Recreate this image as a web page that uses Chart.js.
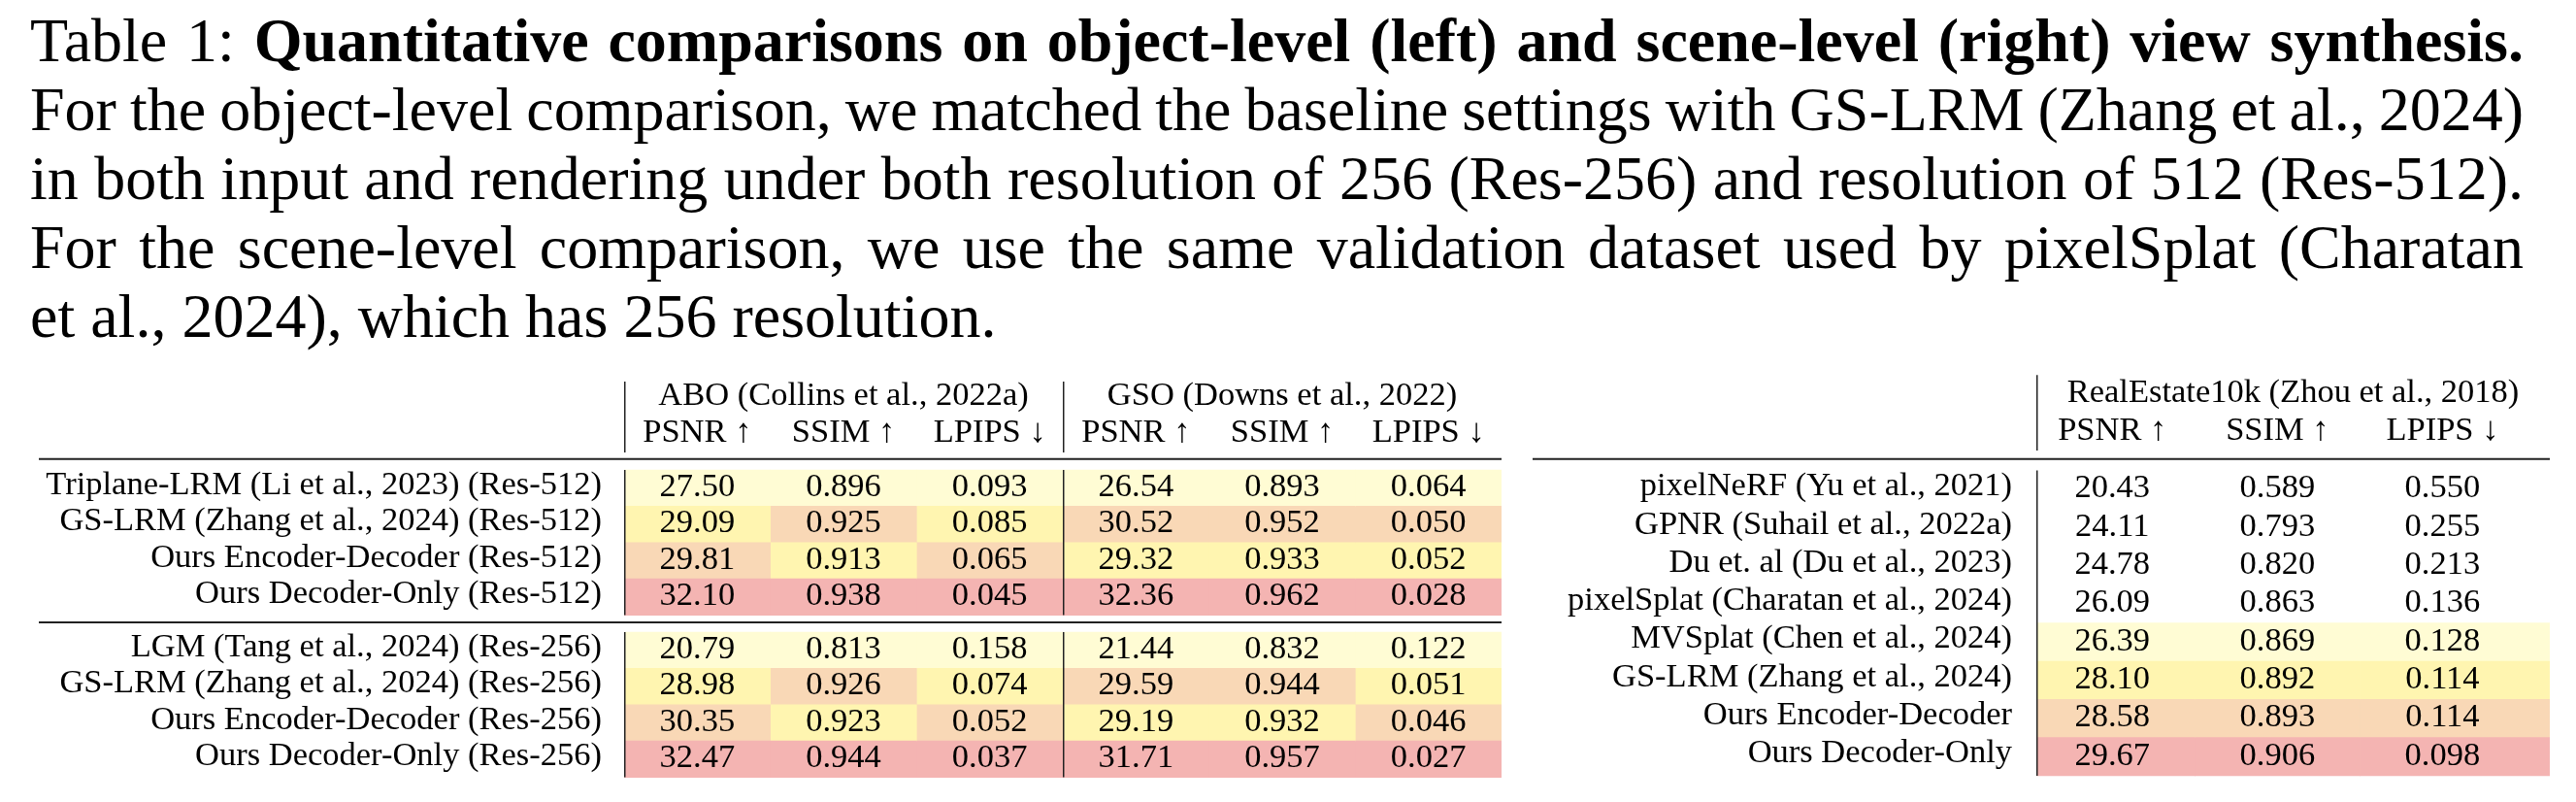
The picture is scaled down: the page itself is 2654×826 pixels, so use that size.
<!DOCTYPE html>
<html>
<head>
<meta charset="utf-8">
<title>Table 1: view synthesis comparison</title>
<script src="https://cdn.jsdelivr.net/npm/chart.js@4.4.1/dist/chart.umd.min.js"></script>
<style>
  html, body { margin: 0; padding: 0; background: #fff; }
  body { width: 2654px; height: 826px; position: relative; overflow: hidden;
         font-family: 'Liberation Serif', 'Times New Roman', serif; color: #000; }
  .caption { position: absolute; left: 31px; top: 6px; width: 2600px; font-size: 64px; line-height: 71px; }
  .caption div, .caption span { white-space: nowrap; }
  #objectTable { position: absolute; left: 0; top: 380px; }
  #sceneTable { position: absolute; left: 1560px; top: 380px; }
</style>
</head>
<body>
<div class="caption">
  <div><span>Table 1: <b>Quantitative comparisons on object-level (left) and scene-level (right) view synthesis.</b></span></div>
  <div><span>For the object-level comparison, we matched the baseline settings with GS-LRM (Zhang et al., 2024)</span></div>
  <div><span>in both input and rendering under both resolution of 256 (Res-256) and resolution of 512 (Res-512).</span></div>
  <div><span>For the scene-level comparison, we use the same validation dataset used by pixelSplat (Charatan</span></div>
  <div class="last"><span>et al., 2024), which has 256 resolution.</span></div>
</div>
<canvas id="objectTable" width="1560" height="446"></canvas>
<canvas id="sceneTable" width="1094" height="446"></canvas>
<script>
// ---- data ----
const metrics = ['PSNR ↑', 'SSIM ↑', 'LPIPS ↓'];
const higherBetter = [true, true, false];
const objectDatasets = ['ABO (Collins et al., 2022a)', 'GSO (Downs et al., 2022)'];
const sceneDataset = 'RealEstate10k (Zhou et al., 2018)';

const methods512 = ['Triplane-LRM (Li et al., 2023) (Res-512)', 'GS-LRM (Zhang et al., 2024) (Res-512)',
                    'Ours Encoder-Decoder (Res-512)', 'Ours Decoder-Only (Res-512)'];
const methods256 = ['LGM (Tang et al., 2024) (Res-256)', 'GS-LRM (Zhang et al., 2024) (Res-256)',
                    'Ours Encoder-Decoder (Res-256)', 'Ours Decoder-Only (Res-256)'];

const aboPsnr512 = [27.50, 29.09, 29.81, 32.10];
const aboSsim512 = [0.896, 0.925, 0.913, 0.938];
const aboLpips512 = [0.093, 0.085, 0.065, 0.045];
const gsoPsnr512 = [26.54, 30.52, 29.32, 32.36];
const gsoSsim512 = [0.893, 0.952, 0.933, 0.962];
const gsoLpips512 = [0.064, 0.050, 0.052, 0.028];

const aboPsnr256 = [20.79, 28.98, 30.35, 32.47];
const aboSsim256 = [0.813, 0.926, 0.923, 0.944];
const aboLpips256 = [0.158, 0.074, 0.052, 0.037];
const gsoPsnr256 = [21.44, 29.59, 29.19, 31.71];
const gsoSsim256 = [0.832, 0.944, 0.932, 0.957];
const gsoLpips256 = [0.122, 0.051, 0.046, 0.027];

const sceneMethods = ['pixelNeRF (Yu et al., 2021)', 'GPNR (Suhail et al., 2022a)', 'Du et. al (Du et al., 2023)',
                      'pixelSplat (Charatan et al., 2024)', 'MVSplat (Chen et al., 2024)',
                      'GS-LRM (Zhang et al., 2024)', 'Ours Encoder-Decoder', 'Ours Decoder-Only'];
const rePsnr = [20.43, 24.11, 24.78, 26.09, 26.39, 28.10, 28.58, 29.67];
const reSsim = [0.589, 0.793, 0.820, 0.863, 0.869, 0.892, 0.893, 0.906];
const reLpips = [0.550, 0.255, 0.213, 0.136, 0.128, 0.114, 0.114, 0.098];

// ---- caption: justify each line to the same right edge ----
const captionRight = 2569;
document.querySelectorAll('.caption div').forEach(div => {
  if (div.classList.contains('last')) return;
  const span = div.querySelector('span');
  const spaces = (span.textContent.match(/ /g) || []).length;
  const w = span.getBoundingClientRect().width;
  span.style.wordSpacing = ((captionRight - w) / spaces) + 'px';
});

// ---- styling ----
const serif = "'Liberation Serif', 'Times New Roman', serif";
const fontSize = 34.5;
const shades = ['#F4B4B2', '#F9D8B6', '#FFF5B0', '#FFFCD4']; // 1st .. 4th best
const ink = '#222';

function rankShades(vals, higher) {
  const order = vals.map((v, i) => i).sort((a, b) => higher ? vals[b] - vals[a] : vals[a] - vals[b]);
  const out = [];
  order.forEach((idx, r) => { out[idx] = shades[r] || '#ffffff'; });
  return out;
}

const fmt = (v, metric) => v.toFixed(metric === 0 ? 2 : 3);

// cell span for column c, first/last column stretched to the scale ends
function span(c, n, min, max) {
  return [c === 0 ? Math.min(0, min) : c, c === n - 1 ? Math.max(n, max) : c + 1];
}

// draws numbers, headers and rules on top of the cell bars
const tableDecor = {
  id: 'tableDecor',
  afterDatasetsDraw(chart, args, o) {
    const { ctx, chartArea: area, scales: { x, y } } = chart;
    const px = v => x.getPixelForValue(v);
    const py = v => y.getPixelForValue(v);
    ctx.save();
    ctx.fillStyle = '#000';
    ctx.font = fontSize + 'px ' + serif;
    ctx.textAlign = 'center';
    ctx.textBaseline = 'alphabetic';

    chart.data.datasets.forEach(ds => {
      const cx = px(ds.column + 0.5);
      ds.data.forEach(d => ctx.fillText(d.text, cx, py(d.y) + fontSize * 0.24));
      ctx.fillText(metrics[ds.column % 3], cx, py(o.metricY));
    });
    o.groups.forEach(g => {
      const from = g.from == null ? x.min : g.from;
      const to = g.to == null ? x.max : g.to;
      ctx.fillText(g.text, px((from + to) / 2), py(o.groupY));
    });

    ctx.strokeStyle = ink;
    ctx.lineWidth = 2;
    o.rules.forEach(r => {
      ctx.beginPath();
      ctx.moveTo(area.left - o.ruleInset, py(r));
      ctx.lineTo(area.right, py(r));
      ctx.stroke();
    });
    ctx.lineWidth = 1.5;
    o.dividers.forEach(dv => {
      const xx = px(dv == null ? x.min : dv) + 0.75;
      o.vSpans.forEach(s => {
        ctx.beginPath();
        ctx.moveTo(xx, py(s[0]));
        ctx.lineTo(xx, py(s[1]));
        ctx.stroke();
      });
    });
    ctx.restore();
  }
};

function tableConfig(cfg, yMin, yMax) {
  return {
    type: 'bar',
    data: { datasets: cfg.datasets },
    options: {
      responsive: false,
      animation: false,
      indexAxis: 'y',
      layout: { padding: { left: 0, right: cfg.padRight, top: 0, bottom: 0 } },
      datasets: { bar: { grouped: false, categoryPercentage: 1, barPercentage: 1, borderWidth: 0 } },
      plugins: {
        legend: { display: false },
        tooltip: { enabled: false },
        tableDecor: cfg.decor
      },
      scales: {
        x: { type: 'linear', display: false, offset: false, min: cfg.xMin, max: cfg.xMax },
        y: {
          type: 'linear', reverse: true, offset: false, bounds: 'data', min: yMin, max: yMax,
          afterBuildTicks: s => { s.ticks = cfg.rowCenters.map(v => ({ value: v })); },
          afterFit: s => { s.width = cfg.axisWidth; s.paddingTop = 0; s.paddingBottom = 0; },
          grid: { display: false, offset: false, drawTicks: true, tickLength: cfg.labelPad },
          border: { display: false },
          ticks: {
            autoSkip: false, padding: 0, labelOffset: -3, color: '#000',
            font: { family: serif, size: fontSize, lineHeight: 0.05 },
            callback: (v, i) => cfg.rowLabels[i]
          }
        }
      }
    },
    plugins: [tableDecor]
  };
}

function buildTable(id, cfg) {
  const canvas = document.getElementById(id);
  // first pass only to learn the chart area the layout gives
  const probe = new Chart(canvas, tableConfig(cfg, -3, 9));
  const area = { top: probe.chartArea.top, bottom: probe.chartArea.bottom };
  probe.destroy();
  // value 0 sits at row0 px, one row = rowUnit px
  return new Chart(canvas, tableConfig(cfg,
    (area.top - cfg.row0) / cfg.rowUnit,
    (area.bottom - cfg.row0) / cfg.rowUnit));
}

// ---- object-level table (left) ----
const objectColumns = [
  [aboPsnr512, aboPsnr256], [aboSsim512, aboSsim256], [aboLpips512, aboLpips256],
  [gsoPsnr512, gsoPsnr256], [gsoSsim512, gsoSsim256], [gsoLpips512, gsoLpips256]
];
const groupStarts = [0, 4.465];
const objX = { min: 0, max: 6 };
const objectRowCenters = [];
groupStarts.forEach(g => [0, 1, 2, 3].forEach(r => objectRowCenters.push(g + r + 0.5)));

const objectSets = objectColumns.map((groups, c) => {
  const metric = c % 3;
  const data = [], colors = [];
  groups.forEach((vals, g) => {
    const sh = rankShades(vals, higherBetter[metric]);
    vals.forEach((v, r) => {
      data.push({ x: span(c, 6, objX.min, objX.max), y: groupStarts[g] + r + 0.5, text: fmt(v, metric) });
      colors.push(sh[r]);
    });
  });
  return { column: c, data, backgroundColor: colors };
});

buildTable('objectTable', {
  datasets: objectSets,
  xMin: objX.min, xMax: objX.max,
  row0: 104, rowUnit: 37.4,
  axisWidth: 643, labelPad: 23, padRight: 13,
  rowCenters: objectRowCenters,
  rowLabels: methods512.concat(methods256),
  decor: {
    groupY: -1.78, metricY: -0.77,
    groups: [{ text: objectDatasets[0], from: 0, to: 3 }, { text: objectDatasets[1], from: 3, to: 6 }],
    rules: [-0.3, 4.2], ruleInset: 603,
    dividers: [0, 3],
    vSpans: [[-2.43, -0.48], [0, 4], [groupStarts[1], groupStarts[1] + 4]]
  }
});

// ---- scene-level table (right) ----
const sceneColumns = [rePsnr, reSsim, reLpips];
const sceneX = { min: 0.04, max: 3.15 };
const sceneShades = rankShades(rePsnr, true);
const sceneSets = sceneColumns.map((vals, c) => ({
  column: c,
  data: vals.map((v, r) => ({ x: span(c, 3, sceneX.min, sceneX.max), y: r + 0.5, text: fmt(v, c) })),
  backgroundColor: sceneShades
}));

buildTable('sceneTable', {
  datasets: sceneSets,
  xMin: sceneX.min, xMax: sceneX.max,
  row0: 104.5, rowUnit: 39.3,
  axisWidth: 538, labelPad: 25, padRight: 27,
  rowCenters: sceneMethods.map((m, r) => r + 0.5),
  rowLabels: sceneMethods,
  decor: {
    groupY: -1.8, metricY: -0.79,
    groups: [{ text: sceneDataset }],
    rules: [-0.3], ruleInset: 519,
    dividers: [null],
    vSpans: [[-2.5, -0.52], [0, 8]]
  }
});
</script>
</body>
</html>
